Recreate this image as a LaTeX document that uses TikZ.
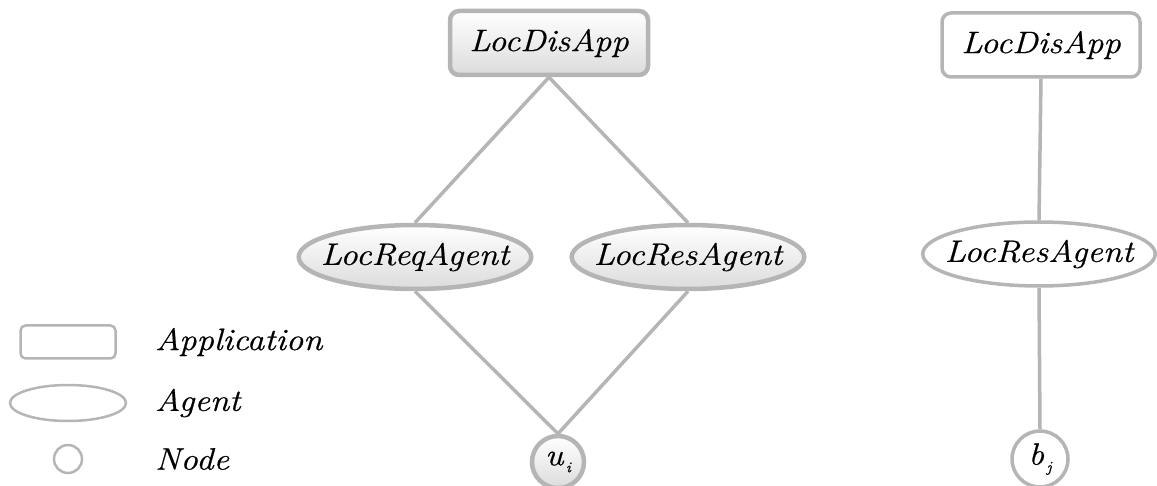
\documentclass[tikz,border=0pt]{standalone}
\usepackage{fontspec}
\setmainfont{Latin Modern Roman}[FakeStretch=1.12, FakeBold=0.6]
\usetikzlibrary{shapes.geometric,backgrounds}
\definecolor{edgegray}{HTML}{B5B5B5}
\definecolor{shadegray}{HTML}{DCDCDC}
\newcommand{\lowsub}[1]{\raisebox{-7pt}{\fontsize{15}{15}\selectfont\,#1}}
\begin{document}
\begin{tikzpicture}[x=1pt,y=-1pt,
  every node/.style={font=\fontsize{31}{36}\selectfont\itshape, inner sep=0pt},
  appbox/.style={draw=edgegray, line width=4.5pt, rounded corners=9pt, minimum width=198pt, minimum height=64pt},
  agentell/.style={draw=edgegray, line width=4.5pt, ellipse, inner xsep=-12pt, minimum width=232pt, minimum height=64pt},
  nodecirc/.style={draw=edgegray, line width=4.5pt, circle, inner sep=-6pt, minimum size=52pt},
  shaded/.style={top color=white, bottom color=shadegray},
  plain/.style={fill=white, line width=3.5pt},
  link/.style={draw=edgegray, line width=3.5pt},
  legbox/.style={draw=edgegray, line width=2.5pt, rounded corners=5pt, minimum width=95pt, minimum height=33pt},
  legell/.style={draw=edgegray, line width=2.5pt, ellipse, minimum width=116pt, minimum height=36pt},
  legcirc/.style={draw=edgegray, line width=2.5pt, circle, minimum size=28pt},
  legtext/.style={anchor=west}
]
\useasboundingbox (0,0) rectangle (1157,486);
% left group
\node[appbox, shaded] (app1) at (549,43) {LocDisApp};
\node[agentell, shaded] (req) at (415,257) {LocReqAgent};
\node[agentell, shaded] (res1) at (688,257) {LocResAgent};
\node[nodecirc, shaded] (u) at (558,462) {u\lowsub{i}};
% right group
\node[appbox, plain] (app2) at (1041,45) {LocDisApp};
\node[agentell, plain] (res2) at (1039,254) {LocResAgent};
\node[nodecirc, plain, minimum size=56pt] (b) at (1040,459) {b\lowsub{j}};
% links
\begin{scope}[on background layer]
\path[link] (app1.south) -- (req.north);
\path[link] (app1.south) -- (res1.north);
\path[link] (req.south) -- (u.north);
\path[link] (res1.south) -- (u.north);
\path[link] (app2.south) -- (res2.north);
\path[link] (res2.south) -- (b.north);
\end{scope}
% legend
\node[legbox] (lapp) at (68,342) {};
\node[legell] (lag) at (68,403) {};
\node[legcirc] (lnode) at (68,459) {};
\node[legtext] (tapp) at (155,342) {Application};
\node[legtext] (tag) at (155,403) {Agent};
\node[legtext] (tnode) at (155,459) {Node};
\end{tikzpicture}
\end{document}
